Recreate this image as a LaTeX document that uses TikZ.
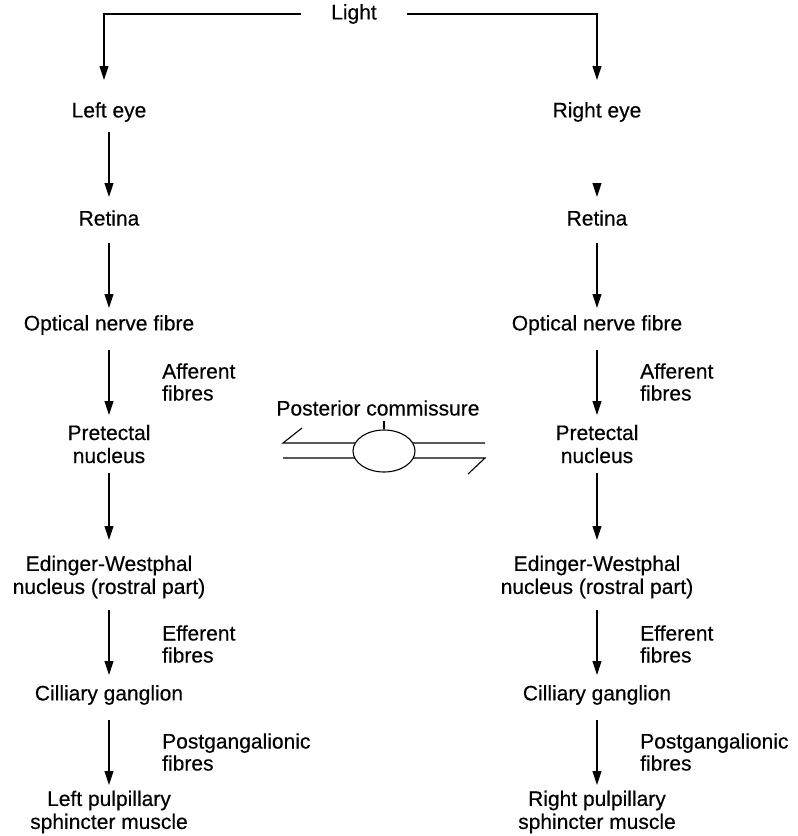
\documentclass[tikz,border=0pt]{standalone}
\usepackage{fontspec}
\setmainfont{Liberation Sans}[FakeBold=0.35]
\usetikzlibrary{arrows.meta,shapes.geometric}

\tikzset{
  flow/.style={-{Triangle[length=14pt,width=9pt]}, line width=1.1pt},
  lbl/.style={font=\fontsize{21}{23}\selectfont, align=center, inner sep=0pt},
  side/.style={font=\fontsize{21}{22}\selectfont, align=left, anchor=west, inner sep=0pt},
  wire/.style={line width=1.1pt}
}

\begin{document}
\begin{tikzpicture}[x=1pt, y=-1pt]
\useasboundingbox (0,0) rectangle (798,836);

% light source and its split to both eyes
\node[lbl, inner xsep=30pt] (light) at (354,14) {Light};
\coordinate (tipL) at (104,80);
\coordinate (tipR) at (597,80);
\draw[flow] (light.west) -| (tipL);
\draw[flow] (light.east) -| (tipR);

% left pathway
\node[lbl] (leye) at (109,112) {Left eye};
\node[lbl] (lret) at (109,218) {Retina};
\node[lbl] (lopt) at (109,325) {Optical nerve fibre};
\node[lbl] (lpre) at (109,444) {Pretectal\\nucleus};
\node[lbl] (lew)  at (109,577) {Edinger-Westphal\\nucleus (rostral part)};
\node[lbl] (lcil) at (109,695) {Cilliary ganglion};
\node[lbl] (lsph) at (109,812) {Left pulpillary\\sphincter muscle};

\node[side] (laff) at (162,382) {Afferent\\fibres};
\node[side] (leff) at (162,644) {Efferent\\fibres};
\node[side] (lpg)  at (162,752) {Postgangalionic\\fibres};

\draw[flow, shorten <=20pt, shorten >=21pt] (leye.center) -- (lret.center);
\draw[flow, shorten <=25pt, shorten >=17pt] (lret.center) -- (lopt.center);
\draw[flow, shorten <=25pt, shorten >=29pt] (lopt.center) -- (lpre.center);
\draw[flow, shorten <=29pt, shorten >=37pt] (lpre.center) -- (lew.center);
\draw[flow, shorten <=33pt, shorten >=20pt] (lew.center) -- (lcil.center);
\draw[flow, shorten <=25pt, shorten >=27pt] (lcil.center) -- (lsph.center);

% right pathway
\node[lbl] (reye) at (597,112) {Right eye};
\node[lbl] (rret) at (597,218) {Retina};
\node[lbl] (ropt) at (597,325) {Optical nerve fibre};
\node[lbl] (rpre) at (597,444) {Pretectal\\nucleus};
\node[lbl] (rew)  at (597,577) {Edinger-Westphal\\nucleus (rostral part)};
\node[lbl] (rcil) at (597,695) {Cilliary ganglion};
\node[lbl] (rsph) at (597,812) {Right pulpillary\\sphincter muscle};

\node[side] (raff) at (640,382) {Afferent\\fibres};
\node[side] (reff) at (640,644) {Efferent\\fibres};
\node[side] (rpg)  at (640,752) {Postgangalionic\\fibres};

\draw[flow, shorten <=71pt, shorten >=21pt] (reye.center) -- (rret.center);
\draw[flow, shorten <=25pt, shorten >=17pt] (rret.center) -- (ropt.center);
\draw[flow, shorten <=25pt, shorten >=29pt] (ropt.center) -- (rpre.center);
\draw[flow, shorten <=29pt, shorten >=37pt] (rpre.center) -- (rew.center);
\draw[flow, shorten <=33pt, shorten >=20pt] (rew.center) -- (rcil.center);
\draw[flow, shorten <=25pt, shorten >=27pt] (rcil.center) -- (rsph.center);

% posterior commissure
\node[lbl] (pc) at (378,408) {Posterior commissure};
\coordinate (ulA) at (283,443);
\coordinate (ulB) at (302,428);
\coordinate (urA) at (485,443);
\coordinate (llA) at (283,458);
\coordinate (lrA) at (485,458);
\coordinate (lrB) at (468,474);
\draw[wire] (ulB) -- (ulA) -- (urA);
\draw[wire] (llA) -- (lrA) -- (lrB);
\node[draw, wire, fill=white, ellipse, minimum width=62pt, minimum height=42pt, inner sep=0pt] (ell) at (384,451) {};
\draw[wire] (ell.north) -- ++(0,-8);

\end{tikzpicture}
\end{document}
